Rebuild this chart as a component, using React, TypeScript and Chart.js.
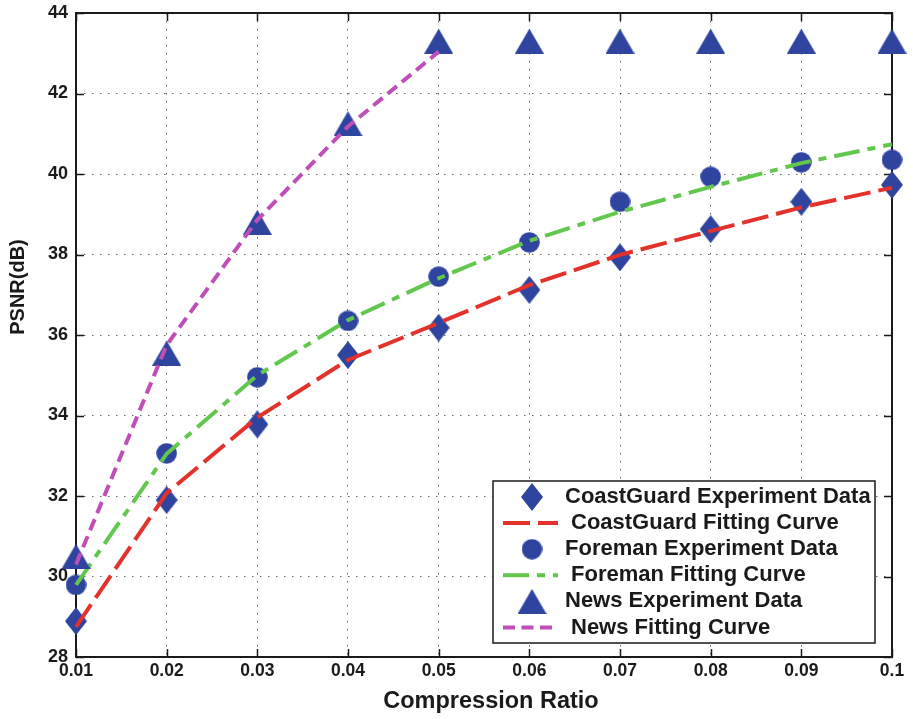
import React, { useEffect, useRef } from "react";
import { Chart, registerables } from "chart.js";

Chart.register(...registerables);

// Compression ratio samples shared by every series
const compressionRatio = [0.01, 0.02, 0.03, 0.04, 0.05, 0.06, 0.07, 0.08, 0.09, 0.1];

// PSNR (dB) per sequence
const coastGuardExperiment = [28.89, 31.9, 33.78, 35.5, 36.18, 37.12, 37.93, 38.63, 39.31, 39.73];
const coastGuardFitting = [28.75, 32.07, 33.95, 35.38, 36.3, 37.24, 37.99, 38.58, 39.17, 39.66];
const foremanExperiment = [29.79, 33.06, 34.95, 36.35, 37.45, 38.3, 39.31, 39.93, 40.29, 40.35];
const foremanFitting = [29.79, 33.05, 35.0, 36.37, 37.41, 38.34, 39.06, 39.68, 40.27, 40.74];
const newsExperiment = [30.5, 35.55, 38.8, 41.25, 43.3, 43.3, 43.3, 43.3, 43.3, 43.3];
const newsFittingRatio = [0.01, 0.02, 0.03, 0.04, 0.05];
const newsFitting = [30.3, 35.75, 38.86, 41.18, 43.04];

// Axis ticks
const xTickValues = [0.01, 0.02, 0.03, 0.04, 0.05, 0.06, 0.07, 0.08, 0.09, 0.1];
const xTickLabels = ["0.01", "0.02", "0.03", "0.04", "0.05", "0.06", "0.07", "0.08", "0.09", "0.1"];
const yTickValues = [28, 30, 32, 34, 36, 38, 40, 42, 44];
const yTickLabels = ["28", "30", "32", "34", "36", "38", "40", "42", "44"];

const xAxisTitle = "Compression Ratio";
const yAxisTitle = "PSNR(dB)";

const FONT = "'Liberation Sans', Arial, Helvetica, sans-serif";
const TEXT = "#1a1a1a";
const MARKER = "#2E449F";
const RED = "#E2322B";
const GREEN = "#62C84D";
const MAGENTA = "#C04EB8";

const pairs = (xs: number[], ys: number[]) => xs.map((x, i) => ({ x, y: ys[i] }));

function makeMarker(kind: "diamond" | "circle" | "triangle"): HTMLCanvasElement {
  const c = document.createElement("canvas");
  const dims = { diamond: [22, 28], circle: [21, 21], triangle: [29, 25] }[kind];
  c.width = dims[0];
  c.height = dims[1];
  const g = c.getContext("2d")!;
  g.fillStyle = MARKER;
  g.beginPath();
  if (kind === "diamond") {
    g.moveTo(11, 0);
    g.lineTo(22, 14);
    g.lineTo(11, 28);
    g.lineTo(0, 14);
  } else if (kind === "circle") {
    g.arc(10.5, 10.5, 10.3, 0, Math.PI * 2);
  } else {
    g.moveTo(14.5, 0);
    g.lineTo(29, 25);
    g.lineTo(0, 25);
  }
  g.closePath();
  g.fill();
  return c;
}

const indexOfTick = (values: number[], v: number) => values.findIndex((t) => Math.abs(t - v) < 1e-9);

const axesFramePlugin = {
  id: "axesFrame",
  beforeDatasetsDraw(chart: any) {
    const { ctx, chartArea: a, scales } = chart;
    ctx.save();
    ctx.strokeStyle = TEXT;
    ctx.lineWidth = 1.5;
    ctx.beginPath();
    for (const v of xTickValues) {
      const px = Math.round(scales.x.getPixelForValue(v)) + 0.5;
      ctx.moveTo(px, a.bottom);
      ctx.lineTo(px, a.bottom - 8);
      ctx.moveTo(px, a.top);
      ctx.lineTo(px, a.top + 8);
    }
    for (const v of yTickValues) {
      const py = Math.round(scales.y.getPixelForValue(v)) + 0.5;
      ctx.moveTo(a.left, py);
      ctx.lineTo(a.left + 8, py);
      ctx.moveTo(a.right, py);
      ctx.lineTo(a.right - 8, py);
    }
    ctx.stroke();
    ctx.lineWidth = 2;
    ctx.strokeRect(a.left, a.top, a.right - a.left, a.bottom - a.top);
    ctx.restore();
  },
  afterDraw(chart: any) {
    const { ctx, chartArea: a } = chart;
    ctx.save();
    ctx.fillStyle = TEXT;
    ctx.textAlign = "center";
    ctx.textBaseline = "middle";
    ctx.font = `bold 23.5px ${FONT}`;
    ctx.fillText(xAxisTitle, (a.left + a.right) / 2 + 7, a.bottom + 45);
    ctx.font = `bold 20px ${FONT}`;
    ctx.translate(18, 287);
    ctx.rotate(-Math.PI / 2);
    ctx.fillText(yAxisTitle, 0, 0);
    ctx.restore();
  },
};

const boxedLegendPlugin = {
  id: "boxedLegend",
  afterDatasetsDraw(chart: any) {
    const { ctx, chartArea: a } = chart;
    const datasets = chart.data.datasets;
    const right = a.right - 17;
    const bottom = a.bottom - 14;
    const width = 382;
    const height = 162;
    const left = right - width;
    const top = bottom - height;
    ctx.save();
    ctx.fillStyle = "#ffffff";
    ctx.fillRect(left, top, width, height);
    ctx.strokeStyle = TEXT;
    ctx.lineWidth = 1.5;
    ctx.strokeRect(left, top, width, height);
    ctx.font = `bold 22px ${FONT}`;
    ctx.textBaseline = "middle";
    ctx.textAlign = "left";
    datasets.forEach((ds: any, i: number) => {
      const cy = top + 16 + i * 26.1;
      if (ds.showLine === false) {
        const img = ds.pointStyle as HTMLCanvasElement;
        ctx.drawImage(img, left + 39 - img.width / 2, cy - img.height / 2);
        ctx.fillStyle = TEXT;
        ctx.fillText(ds.label, left + 72, cy);
      } else {
        ctx.save();
        ctx.strokeStyle = ds.borderColor;
        ctx.lineWidth = 4;
        ctx.setLineDash(ds.borderDash);
        ctx.beginPath();
        ctx.moveTo(left + 10, cy);
        ctx.lineTo(left + 65, cy);
        ctx.stroke();
        ctx.restore();
        ctx.fillStyle = TEXT;
        ctx.fillText(ds.label, left + 78, cy);
      }
    });
    ctx.restore();
  },
};

export default function App() {
  const canvasRef = useRef<HTMLCanvasElement | null>(null);

  useEffect(() => {
    if (!canvasRef.current) return;
    const diamond = makeMarker("diamond");
    const circle = makeMarker("circle");
    const triangle = makeMarker("triangle");

    const markerSet = (label: string, xs: number[], ys: number[], style: HTMLCanvasElement, order: number) => ({
      label,
      data: pairs(xs, ys),
      showLine: false,
      pointStyle: style,
      pointRadius: 10,
      backgroundColor: MARKER,
      borderColor: MARKER,
      clip: false,
      order,
    });
    const curveSet = (label: string, xs: number[], ys: number[], color: string, dash: number[], order: number) => ({
      label,
      data: pairs(xs, ys),
      showLine: true,
      borderColor: color,
      borderWidth: 4,
      borderDash: dash,
      borderCapStyle: "butt",
      pointRadius: 0,
      tension: 0,
      fill: false,
      clip: false,
      order,
    });

    const chart = new Chart(canvasRef.current, {
      type: "scatter",
      data: {
        datasets: [
          markerSet("CoastGuard Experiment Data", compressionRatio, coastGuardExperiment, diamond, 6),
          curveSet("CoastGuard Fitting Curve", compressionRatio, coastGuardFitting, RED, [27, 8], 5),
          markerSet("Foreman Experiment Data", compressionRatio, foremanExperiment, circle, 4),
          curveSet("Foreman Fitting Curve", compressionRatio, foremanFitting, GREEN, [26, 8, 8, 8], 3),
          markerSet("News Experiment Data", compressionRatio, newsExperiment, triangle, 2),
          curveSet("News Fitting Curve", newsFittingRatio, newsFitting, MAGENTA, [12, 6.5], 1),
        ] as any,
      },
      options: {
        animation: false,
        responsive: false,
        events: [],
        layout: { padding: { top: 13, right: 21, left: 0, bottom: 0 } },
        plugins: {
          legend: { display: false },
          tooltip: { enabled: false },
          title: { display: false },
        },
        scales: {
          x: {
            type: "linear",
            min: 0.01,
            max: 0.1,
            afterBuildTicks: (s: any) => {
              s.ticks = xTickValues.map((value) => ({ value }));
            },
            afterFit: (s: any) => {
              s.height = 62;
              s.paddingLeft = 0;
              s.paddingRight = 0;
            },
            ticks: {
              callback: (v: any) => xTickLabels[indexOfTick(xTickValues, Number(v))],
              font: { family: FONT, weight: "bold", size: 17.5 },
              color: TEXT,
              padding: 4,
              maxRotation: 0,
              autoSkip: false,
            },
            grid: { color: "rgba(0,0,0,0.6)", lineWidth: 1, drawTicks: false },
            border: { display: false, dash: [1.5, 6.5] },
          },
          y: {
            type: "linear",
            min: 28,
            max: 44,
            afterBuildTicks: (s: any) => {
              s.ticks = yTickValues.map((value) => ({ value }));
            },
            afterFit: (s: any) => {
              s.width = 76;
              s.paddingTop = 0;
              s.paddingBottom = 0;
            },
            ticks: {
              callback: (v: any) => yTickLabels[indexOfTick(yTickValues, Number(v))],
              font: { family: FONT, weight: "bold", size: 18 },
              color: TEXT,
              padding: 8,
            },
            grid: { color: "rgba(0,0,0,0.6)", lineWidth: 1, drawTicks: false },
            border: { display: false, dash: [1.5, 6.5] },
          },
        },
      } as any,
      plugins: [axesFramePlugin, boxedLegendPlugin],
    });
    return () => chart.destroy();
  }, []);

  return (
    <div style={{ position: "absolute", left: 0, top: 0, width: 913, height: 719, background: "#ffffff" }}>
      <canvas ref={canvasRef} width={913} height={719} style={{ display: "block" }} />
    </div>
  );
}
